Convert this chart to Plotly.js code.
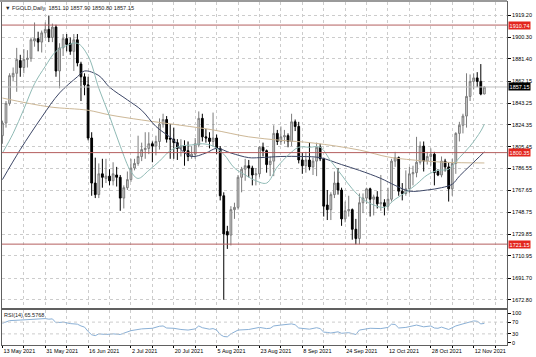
<!DOCTYPE html>
<html>
<head>
<meta charset="utf-8">
<script src="https://cdn.plot.ly/plotly-3.0.1.min.js"></script>
<style>html,body{margin:0;padding:0;background:#fff;}#chart{width:536px;height:357px;}</style>
</head>
<body>
<div id="chart"></div>
<script>
// Daily bars (bar index 0 = 13 May 2021 ... 135 = last bar)
const barOpen = [
1815,1826,1843,1866,1869,1880,1874,1881,1882,1897,
1899,1896,1904,1907,1900,1909,1871,1891,1899,1895,
1888,1898,1877,1866,1859,1813,1774,1764,1782,1778,
1780,1776,1781,1779,1761,1770,1777,1787,1791,1797,
1803,1804,1808,1806,1810,1825,1829,1813,1812,1809,
1804,1806,1802,1797,1799,1807,1830,1814,1813,1810,
1813,1804,1763,1732,1729,1751,1753,1779,1786,1789,
1787,1781,1782,1805,1802,1790,1793,1817,1810,1814,
1815,1810,1827,1823,1794,1789,1794,1788,1793,1805,
1795,1755,1751,1764,1774,1768,1743,1750,1751,1734,
1726,1757,1761,1769,1760,1762,1756,1757,1754,1760,
1793,1796,1767,1765,1769,1782,1783,1792,1806,1793,
1797,1799,1784,1781,1793,1788,1769,1791,1817,1824,
1832,1849,1862,1865,1862,1851.10];
const barHigh = [
1828,1845,1869,1874,1891,1885,1890,1889,1900,1913,
1905,1906,1913,1919,1912,1911,1895,1903,1903,1900,
1903,1903,1879,1869,1866,1818,1796,1791,1795,1795,
1786,1792,1788,1781,1772,1784,1795,1795,1815,1809,
1818,1818,1810,1815,1830,1834,1832,1825,1822,1812,
1812,1811,1810,1806,1813,1836,1834,1821,1818,1835,
1816,1806,1766,1737,1754,1757,1781,1788,1795,1794,
1789,1787,1806,1809,1803,1797,1824,1820,1823,1820,
1817,1834,1829,1827,1800,1801,1809,1796,1809,1808,
1796,1768,1766,1784,1787,1770,1758,1763,1752,1743,
1765,1765,1770,1770,1764,1767,1781,1760,1770,1795,
1801,1797,1774,1785,1788,1789,1814,1810,1810,1801,
1804,1801,1786,1797,1795,1792,1795,1818,1827,1834,
1869,1868,1869,1870,1877,1857.90];
const barLow = [
1808,1822,1841,1862,1853,1866,1869,1874,1879,1892,
1888,1887,1900,1896,1896,1866,1856,1884,1888,1885,
1871,1875,1845,1850,1811,1763,1761,1761,1770,1774,
1772,1772,1771,1750,1752,1768,1775,1785,1789,1793,
1795,1799,1792,1798,1803,1822,1809,1795,1795,1794,
1797,1789,1793,1795,1795,1805,1810,1809,1804,1806,
1799,1759,1673,1717,1720,1743,1751,1766,1776,1779,
1772,1772,1779,1797,1783,1780,1780,1807,1807,1808,
1805,1806,1819,1791,1782,1783,1785,1781,1780,1793,
1745,1742,1742,1761,1764,1737,1740,1745,1725,1721,
1721,1748,1756,1745,1746,1752,1750,1746,1750,1758,
1788,1763,1759,1763,1765,1772,1779,1790,1784,1790,
1789,1772,1780,1779,1784,1758,1763,1782,1810,1817,
1822,1845,1855,1857,1850,1850.80];
const barClose = [
1826,1843,1867,1869,1881,1874,1881,1882,1898,1899,
1896,1904,1907,1900,1909,1871,1891,1899,1894,1888,
1898,1878,1866,1859,1813,1774,1764,1782,1779,1780,
1776,1782,1779,1761,1770,1777,1787,1791,1797,1803,
1804,1808,1806,1810,1825,1829,1812,1812,1809,1804,
1806,1802,1797,1799,1808,1830,1814,1813,1810,1813,
1804,1763,1730,1729,1751,1753,1779,1786,1789,1787,
1781,1782,1805,1802,1790,1793,1817,1810,1814,1815,
1810,1827,1823,1794,1789,1794,1788,1793,1805,1795,
1754,1751,1764,1774,1768,1743,1750,1751,1734,1726,
1757,1761,1769,1760,1762,1756,1757,1754,1760,1793,
1796,1767,1765,1769,1782,1783,1792,1806,1793,1797,
1799,1783,1781,1793,1788,1769,1791,1817,1824,1832,
1849,1862,1865,1862,1851,1857.15];

// Moving averages (bar index, price)
const fastMaK = [0,3,6,9,12,15,18,21,24,27,30,33,36,38,41,44,47,50,53,56,59,62,65,68,71,74,77,80,83,86,89,92,95,98,101,104,107,110,113,116,119,122,125,128,131,134,135];
const fastMaV = [1800,1817,1838,1860,1875,1888,1893,1895,1884,1856,1832,1806,1784,1778,1785,1793,1802,1806,1807,1808,1806,1799,1787,1781,1776,1774,1788,1798,1805,1805,1805,1793,1781,1769,1760,1755,1753,1760,1766,1773,1781,1785,1786,1796,1806,1819,1825];
const midMaK = [0,5,11,16,21,23,27,30,35,39,43,48,50,53,57,60,64,69,72,78,84,89,95,100,106,110,114,119,123,126,128,131,135];
const midMaV = [1777,1803,1831,1852,1866,1871,1867,1857,1846,1837,1823,1811,1803,1797,1800,1804,1800,1796,1796,1797,1797,1796,1790,1785,1778,1772,1767,1768,1770,1773,1780,1789,1801];
const slowMaK = [0,13,24,30,39,50,59,69,78,87,100,108,115,124,135];
const slowMaV = [1847.6,1840,1837,1833,1828.6,1824,1820,1814,1811,1808.7,1802.6,1796.6,1794,1792,1791.4];

// RSI(14)
const rsiK = [0,2,5,9,12,13,14,15,17,19,21,22,23,24,25,26,27,29,31,33,34,36,39,42,44,45,46,48,50,52,54,55,56,58,59,60,61,62,63,64,66,69,72,74,75,76,78,81,82,83,86,88,89,90,91,92,94,95,97,99,100,103,106,108,109,110,111,113,116,118,120,121,122,123,125,127,129,130,131,132,133,134,135];
const rsiV = [66,75,77,80,82,80,81,68,70,65,63,57,53,38,27,24,30,28,30,28,33,41,47,49,56,57,50,49,45,43,47,57,51,46,48,43,28,21,20,30,43,45,52,48,49,57,60,64,61,50,46,51,48,36,35,33,37,32,34,28,43,49,48,52,63,62,50,52,60,54,57,50,49,53,45,57,64,68,72,74,73,64,65.58];

// Levels and labels
const levelPrices = [1910.74, 1800.35, 1721.15];
const lastPrice = 1857.15;
const priceTicks = [1919.20,1900.30,1881.40,1862.15,1843.25,1824.35,1805.45,1786.55,1767.65,1748.75,1729.85,1710.95,1691.70,1672.80];
const dateLabels = ['13 May 2021','31 May 2021','16 Jun 2021','2 Jul 2021','20 Jul 2021','5 Aug 2021','23 Aug 2021','8 Sep 2021','24 Sep 2021','12 Oct 2021','28 Oct 2021','12 Nov 2021'];
const rsiTicks = [0,30,70,100];

const idx = barClose.map((_, i) => i);
const gridK = [], gridText = [];
for (let i = 0; i <= 23; i++) {
  gridK.push(i * 6);
  gridText.push(i % 2 === 0 && dateLabels[i / 2] ? dateLabels[i / 2] : '');
}

const FONT = 'Liberation Sans, Arial, sans-serif';
const GRID = '#cccccc';
const FRAME = '#606060';
const XR = [-0.12, 141.34];

const traces = [
  {type:'candlestick', x:idx, open:barOpen, high:barHigh, low:barLow, close:barClose,
   xaxis:'x', yaxis:'y', whiskerwidth:0, hoverinfo:'skip', showlegend:false,
   increasing:{line:{color:'#7c7c7c', width:1}, fillcolor:'#d4d4d4'},
   decreasing:{line:{color:'#000000', width:1}, fillcolor:'#000000'}},
  {type:'scatter', mode:'lines', x:slowMaK, y:slowMaV, xaxis:'x', yaxis:'y',
   line:{color:'#cdb897', width:1, shape:'spline'}, hoverinfo:'skip'},
  {type:'scatter', mode:'lines', x:midMaK, y:midMaV, xaxis:'x', yaxis:'y',
   line:{color:'#3c4666', width:1, shape:'spline'}, hoverinfo:'skip'},
  {type:'scatter', mode:'lines', x:fastMaK, y:fastMaV, xaxis:'x', yaxis:'y',
   line:{color:'#8fbab5', width:1, shape:'spline'}, hoverinfo:'skip'},
  {type:'scatter', mode:'lines', x:rsiK, y:rsiV, xaxis:'x2', yaxis:'y2',
   line:{color:'#8ab0d6', width:1}, hoverinfo:'skip'}
];

const shapes = levelPrices.map(p => ({type:'line', xref:'paper', x0:0, x1:1, yref:'y', y0:p, y1:p,
  line:{color:'#b45e5e', width:1}}));
shapes.push({type:'line', xref:'paper', x0:0, x1:1, yref:'y', y0:lastPrice, y1:lastPrice,
  line:{color:'#bdbdbd', width:1}});
[30,70].forEach(v => shapes.push({type:'line', xref:'paper', x0:0, x1:1, yref:'y2', y0:v, y1:v,
  line:{color:GRID, width:1, dash:'dot'}}));
// window frame at the top edge
shapes.push({type:'line', xref:'paper', yref:'paper', x0:-0.005, x1:1, y0:1.003, y1:1.003,
  line:{color:'#9a9a9a', width:2}});

const annotations = [
  {xref:'paper', yref:'paper', x:0, y:1, xanchor:'left', yanchor:'top', xshift:1, yshift:-1,
   text:'▼ FGOLD,Daily  1851.10 1857.90 1850.80 1857.15', showarrow:false,
   font:{family:FONT, size:5.6, color:'#222'}},
  {xref:'paper', yref:'y2 domain', x:0, y:1, xanchor:'left', yanchor:'top', xshift:0, yshift:0,
   text:'RSI(14) 65.5768', showarrow:false, font:{family:FONT, size:5.5, color:'#222'}}
];
levelPrices.forEach(p => annotations.push({xref:'paper', yref:'y', x:1, y:p, xanchor:'left', yanchor:'middle',
  xshift:1, text:p.toFixed(2), showarrow:false, bgcolor:'#e3261e', borderpad:0.6,
  font:{family:FONT, size:5.5, color:'#ffffff'}}));
annotations.push({xref:'paper', yref:'y', x:1, y:lastPrice, xanchor:'left', yanchor:'middle',
  xshift:1, text:lastPrice.toFixed(2), showarrow:false, bgcolor:'#000000', borderpad:0.6,
  font:{family:FONT, size:5.5, color:'#ffffff'}});

const axisCommon = {zeroline:false, showline:true, mirror:true, linecolor:FRAME, linewidth:1, fixedrange:true};

const layout = {
  width:536, height:357,
  margin:{l:2, r:29, t:2, b:12, pad:0},
  paper_bgcolor:'#ffffff', plot_bgcolor:'#ffffff',
  showlegend:false, hovermode:false,
  font:{family:FONT, size:5.5, color:'#000'},
  xaxis:Object.assign({domain:[0,1], anchor:'y', range:XR, tickmode:'array',
    tickvals:gridK, showticklabels:false, ticks:'', showgrid:true, gridcolor:GRID, griddash:'dot',
    gridwidth:1, rangeslider:{visible:false}}, axisCommon),
  xaxis2:Object.assign({domain:[0,1], anchor:'y2', matches:'x', range:XR, tickmode:'array',
    tickvals:gridK, ticktext:gridText, ticklabelposition:'outside right', ticks:'outside', ticklen:2,
    tickcolor:'#000', showgrid:true, gridcolor:GRID, griddash:'dot', gridwidth:1,
    tickfont:{family:FONT, size:5.5, color:'#000'}, rangeslider:{visible:false}}, axisCommon),
  yaxis:Object.assign({domain:[0.10787,1], anchor:'x', side:'right', range:[1665.87,1930.71],
    tickmode:'array', tickvals:priceTicks, ticktext:priceTicks.map(v => v.toFixed(2)),
    ticks:'outside', ticklen:3, tickcolor:'#000', showgrid:true, gridcolor:GRID, griddash:'dot',
    gridwidth:1, tickfont:{family:FONT, size:5.5, color:'#000'}}, axisCommon),
  yaxis2:Object.assign({domain:[0,0.10204], anchor:'x2', side:'right', range:[-7.8,111.2],
    tickmode:'array', tickvals:rsiTicks, ticktext:rsiTicks.map(String), ticks:'outside', ticklen:3,
    tickcolor:'#000', showgrid:false, tickfont:{family:FONT, size:5.5, color:'#000'}}, axisCommon),
  shapes:shapes,
  annotations:annotations
};

Plotly.newPlot('chart', traces, layout, {staticPlot:true, displayModeBar:false});
</script>
</body>
</html>
